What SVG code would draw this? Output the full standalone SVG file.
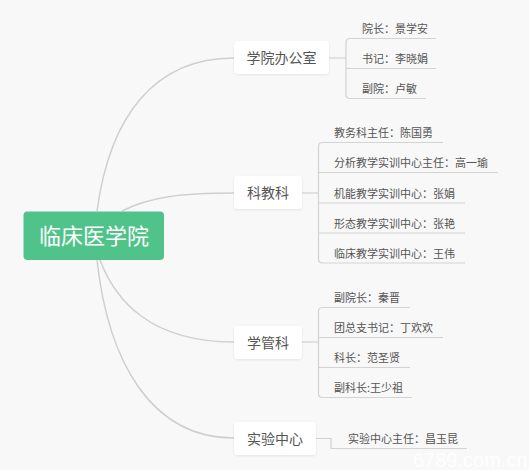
<svg xmlns="http://www.w3.org/2000/svg" width="529" height="470" viewBox="0 0 529 470">
<defs>
<filter id="sh" x="-20%" y="-30%" width="140%" height="160%">
<feDropShadow dx="0" dy="1" stdDeviation="1.2" flood-color="#000" flood-opacity="0.08"/>
</filter>
</defs>
<style>
.cjk{font-family:"Noto Sans CJK SC","Noto Sans",sans-serif}
.main{fill:none;stroke:#cfcfcf;stroke-width:1.5}
.sub{fill:none;stroke:#d3d3d3;stroke-width:1.2}
.box{fill:#ffffff;filter:url(#sh)}
.bt{font-size:14px;fill:#555;text-anchor:middle}
.ct{font-size:11px;fill:#555}
</style>
<rect x="0" y="0" width="529" height="470" fill="#f8f8f8"/>
<g id="connectors">
<path class="main" d="M97,211 C110,115 155,58 234,58"/>
<path class="main" d="M122,211 C150,197 180,193 234,193"/>
<path class="main" d="M100,260 C115,300 150,342 234,342"/>
<path class="main" d="M97,260 C108,360 150,438 234,438"/>
<path class="sub" d="M329,58 H346"/>
<path class="sub" d="M436,38.5 H350 Q346,38.5 346,42.5 V94.5 Q346,98.5 350,98.5 H426"/>
<path class="sub" d="M346,68.5 H436"/>
<path class="sub" d="M302,193 H318.5"/>
<path class="sub" d="M443,142.5 H322.5 Q318.5,142.5 318.5,146.5 V259 Q318.5,263 322.5,263 H465"/>
<path class="sub" d="M318.5,172.5 H498 M318.5,203 H465 M318.5,233 H465"/>
<path class="sub" d="M302,342 H318.5"/>
<path class="sub" d="M410,307.5 H322.5 Q318.5,307.5 318.5,311.5 V393.5 Q318.5,397.5 322.5,397.5 H412"/>
<path class="sub" d="M318.5,337.5 H443 M318.5,367.5 H410"/>
<path class="sub" d="M316,438.5 H331 V448.5 H467"/>
</g>
<g id="root">
<rect x="23.5" y="211.5" width="140.5" height="48.5" rx="4" fill="#50c38a"/>
<text class="cjk" x="94" y="244" font-size="22" fill="#fff" text-anchor="middle">临床医学院</text>
</g>
<g id="n-office">
<rect class="box" x="234" y="41" width="95" height="33" rx="4"/>
<text class="cjk bt" x="281.5" y="62.5">学院办公室</text>
</g>
<g id="n-office-1"><text class="cjk ct" x="362" y="33">院长：景学安</text></g>
<g id="n-office-2"><text class="cjk ct" x="362" y="63">书记：李晓娟</text></g>
<g id="n-office-3"><text class="cjk ct" x="362" y="93">副院：卢敏</text></g>
<g id="n-edu">
<rect class="box" x="234" y="176" width="68" height="33" rx="4"/>
<text class="cjk bt" x="268" y="197.5">科教科</text>
</g>
<g id="n-edu-1"><text class="cjk ct" x="334" y="137">教务科主任：陈国勇</text></g>
<g id="n-edu-2"><text class="cjk ct" x="334" y="167">分析教学实训中心主任：高一瑜</text></g>
<g id="n-edu-3"><text class="cjk ct" x="334" y="197.5">机能教学实训中心：张娟</text></g>
<g id="n-edu-4"><text class="cjk ct" x="334" y="227.5">形态教学实训中心：张艳</text></g>
<g id="n-edu-5"><text class="cjk ct" x="334" y="257.5">临床教学实训中心：王伟</text></g>
<g id="n-stu">
<rect class="box" x="234" y="326" width="68" height="33" rx="4"/>
<text class="cjk bt" x="268" y="347.5">学管科</text>
</g>
<g id="n-stu-1"><text class="cjk ct" x="334" y="302">副院长：秦晋</text></g>
<g id="n-stu-2"><text class="cjk ct" x="334" y="332">团总支书记：丁欢欢</text></g>
<g id="n-stu-3"><text class="cjk ct" x="334" y="362">科长：范圣贤</text></g>
<g id="n-stu-4"><text class="cjk ct" x="334" y="392">副科长:王少祖</text></g>
<g id="n-lab">
<rect class="box" x="234" y="422" width="82" height="33" rx="4"/>
<text class="cjk bt" x="275" y="443.5">实验中心</text>
</g>
<g id="n-lab-1"><text class="cjk ct" x="348" y="443">实验中心主任：昌玉昆</text></g>
<text x="413" y="467" font-family="Liberation Sans, sans-serif" font-size="20" fill="#ffffff" fill-opacity="0.9">6789.com.cn</text>
</svg>
